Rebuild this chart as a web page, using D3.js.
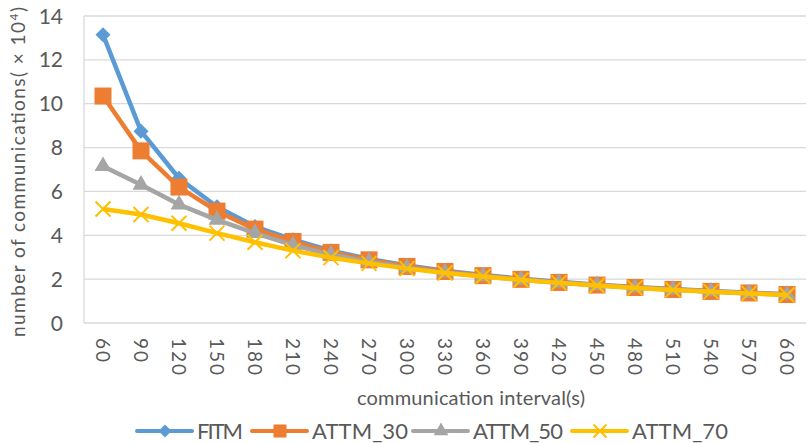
<!DOCTYPE html>
<html>
<head>
<meta charset="utf-8">
<script src="https://cdn.jsdelivr.net/npm/d3@7"></script>
<style>
  body { margin: 0; background: #fff; }
  svg text { font-family: Lato, "Open Sans", sans-serif; fill: #595959; }
</style>
</head>
<body>
<script>
// data (x10^4)
const intervals = ["60","90","120","150","180","210","240","270","300","330","360","390","420","450","480","510","540","570","600"];
const fitm   = [13.15, 8.75, 6.6, 5.3, 4.4, 3.8, 3.3, 2.92, 2.62, 2.38, 2.19, 2.02, 1.88, 1.75, 1.64, 1.55, 1.46, 1.38, 1.31];
const attm30 = [10.35, 7.85, 6.2, 5.1, 4.28, 3.72, 3.22, 2.88, 2.58, 2.35, 2.16, 1.99, 1.85, 1.73, 1.62, 1.53, 1.44, 1.37, 1.3];
const attm50 = [7.15, 6.3, 5.4, 4.7, 4.1, 3.55, 3.12, 2.8, 2.52, 2.3, 2.13, 1.97, 1.84, 1.72, 1.61, 1.52, 1.44, 1.36, 1.29];
const attm70 = [5.2, 4.95, 4.55, 4.1, 3.68, 3.3, 2.98, 2.72, 2.48, 2.28, 2.12, 1.96, 1.83, 1.71, 1.6, 1.51, 1.43, 1.35, 1.28];
const seriesNames = ["FITM", "ATTM_30", "ATTM_50", "ATTM_70"];
const colors = ["#5b9bd5", "#ed7d31", "#a5a5a5", "#ffc000"];
const yTicks = [0, 2, 4, 6, 8, 10, 12, 14];

const width = 812, height = 443;
const plotL = 84, plotR = 806, plotT = 16, plotB = 323;

const svg = d3.select("body").append("svg")
  .attr("width", width)
  .attr("height", height);

const x = d3.scaleBand().domain(intervals).range([plotL, plotR]).padding(0);
const y = d3.scaleLinear().domain([0, 14]).range([plotB, plotT]);

// grid
svg.append("g")
  .selectAll("line")
  .data(yTicks)
  .enter()
  .append("line")
  .attr("x1", plotL).attr("x2", plotR)
  .attr("y1", d => y(d)).attr("y2", d => y(d))
  .attr("stroke", "#d9d9d9")
  .attr("stroke-width", 1.3);

svg.append("line")
  .attr("x1", plotL).attr("x2", plotL)
  .attr("y1", plotT).attr("y2", plotB)
  .attr("stroke", "#d9d9d9").attr("stroke-width", 1.3);

// y axis labels
svg.append("g")
  .selectAll("text")
  .data(yTicks)
  .enter()
  .append("text")
  .attr("x", 63)
  .attr("y", d => y(d))
  .attr("dy", "0.36em")
  .attr("text-anchor", "end")
  .attr("font-size", 21)
  .text(d => d);

// x axis labels, rotated
svg.append("g")
  .selectAll("text")
  .data(intervals)
  .enter()
  .append("text")
  .attr("transform", d => "translate(" + (x(d) + x.bandwidth() / 2) + "," + 338 + ") rotate(90)")
  .attr("dy", "0.36em")
  .attr("font-size", 19)
  .attr("letter-spacing", 2)
  .text(d => d);

// axis titles
svg.append("text")
  .attr("transform", "translate(18,172) rotate(-90)")
  .attr("dy", "0.36em")
  .attr("text-anchor", "middle")
  .attr("font-size", 19)
  .attr("textLength", 330)
  .html("number of communications( \u00d7 10<tspan dy='-7' font-size='12'>4</tspan><tspan dy='7'>)</tspan>");

svg.append("text")
  .attr("x", 471)
  .attr("y", 405)
  .attr("text-anchor", "middle")
  .attr("font-size", 20)
  .attr("textLength", 228)
  .text("communication interval(s)");

const allSeries = [fitm, attm30, attm50, attm70];
const line = d3.line()
  .x((d, i) => x(intervals[i]) + x.bandwidth() / 2)
  .y(d => y(d));

function marker(g, k, cx, cy, s) {
  const c = colors[k];
  if (k === 0) {
    g.append("path").attr("d", d3.symbol(d3.symbolSquare, s * s * 0.5)())
      .attr("transform", "translate(" + cx + "," + cy + ") rotate(45)").attr("fill", c);
  } else if (k === 1) {
    g.append("rect").attr("x", cx - s / 2).attr("y", cy - s / 2)
      .attr("width", s).attr("height", s).attr("fill", c);
  } else if (k === 2) {
    g.append("path").attr("d", d3.symbol(d3.symbolTriangle, s * s * 0.55)())
      .attr("transform", "translate(" + cx + "," + cy + ")").attr("fill", c);
  } else {
    const h = s / 2;
    g.append("path").attr("d", "M" + (cx - h) + "," + (cy - h) + "L" + (cx + h) + "," + (cy + h) +
      "M" + (cx - h) + "," + (cy + h) + "L" + (cx + h) + "," + (cy - h))
      .attr("stroke", c).attr("stroke-width", 2).attr("fill", "none");
  }
}

allSeries.forEach((vals, k) => {
  const g = svg.append("g");
  g.append("path")
    .datum(vals)
    .attr("d", line)
    .attr("fill", "none")
    .attr("stroke", colors[k])
    .attr("stroke-width", 4.5)
    .attr("stroke-linejoin", "round");
  vals.forEach((v, i) => {
    marker(g, k, x(intervals[i]) + x.bandwidth() / 2, y(v), k === 1 ? 17 : 15);
  });
});

// legend
const legendX = [137, 252, 413, 572];
const legendW = [46, 96, 90, 96];
const lg = svg.append("g");
seriesNames.forEach((name, k) => {
  const lx = legendX[k], ly = 431;
  lg.append("line")
    .attr("x1", lx).attr("x2", lx + 55)
    .attr("y1", ly).attr("y2", ly)
    .attr("stroke", colors[k]).attr("stroke-width", 4)
    .attr("stroke-linecap", "round");
  marker(lg, k, lx + 28, ly, 13);
  lg.append("text")
    .attr("x", lx + 60)
    .attr("y", ly)
    .attr("dy", "0.36em")
    .attr("font-size", 22)
    .attr("textLength", legendW[k])
    .text(name);
});
</script>
</body>
</html>
